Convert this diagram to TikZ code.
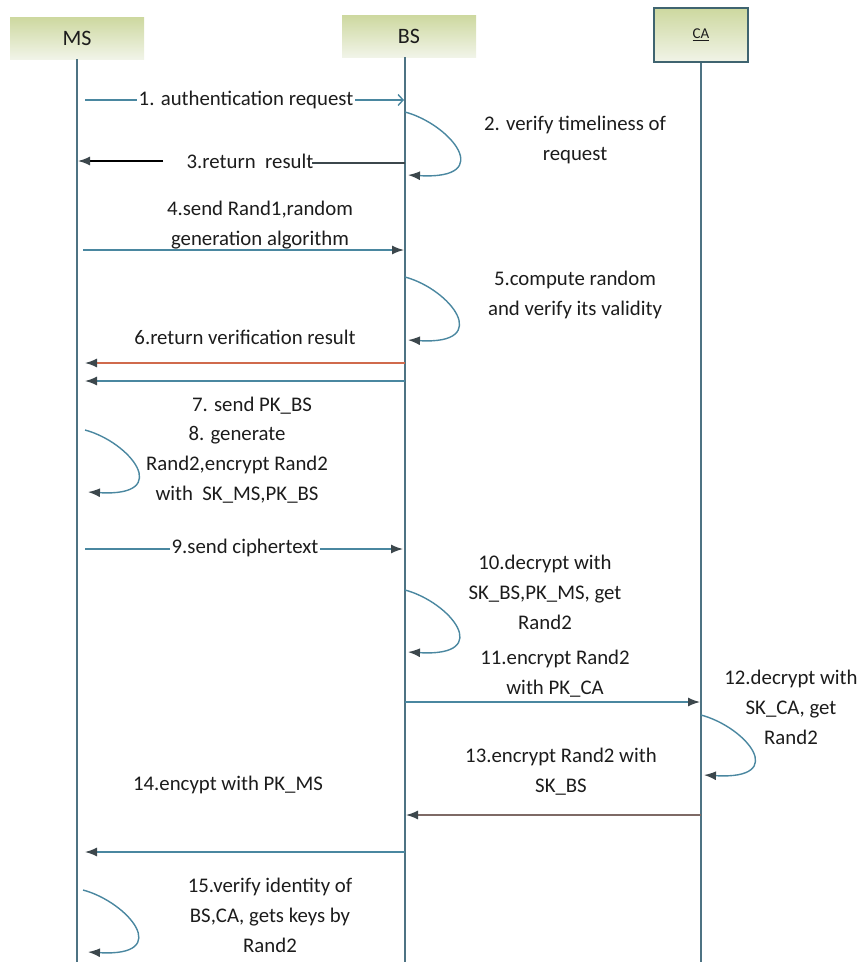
\documentclass[tikz,border=0pt]{standalone}
\usepackage{fontspec}
\setmainfont{Carlito}
\usetikzlibrary{arrows.meta,calc}
\definecolor{lifec}{HTML}{4E7383}
\definecolor{msgc}{HTML}{4A87A0}
\definecolor{tipc}{HTML}{3C474C}
\definecolor{redc}{HTML}{D06A4C}
\definecolor{brc}{HTML}{7E6A66}
\definecolor{txtc}{HTML}{1C1C1C}
\definecolor{boxtop}{HTML}{CDD89F}
\definecolor{boxbot}{HTML}{F1F4E8}
\definecolor{caedge}{HTML}{3F6470}
\begin{document}
\begin{tikzpicture}[x=1pt,y=-1pt,
  actor/.style={minimum width=134pt,minimum height=42pt,top color=boxtop,bottom color=boxbot,draw=none,font=\fontsize{22}{26}\selectfont,text=txtc},
  caact/.style={minimum width=94pt,minimum height=54pt,top color=boxtop,bottom color=boxbot,draw=caedge,line width=1.5pt,font=\fontsize{15}{18}\selectfont,text=txtc},
  life/.style={draw=lifec,line width=1.3pt},
  tipstyle/.style={-{Latex[length=12pt,width=9pt,color=tipc]}},
  msg/.style={draw=msgc,line width=1.4pt,tipstyle},
  msgopen/.style={draw=msgc,line width=1.4pt,-{Straight Barb[length=5pt,width=11pt]}},
  msgred/.style={draw=redc,line width=1.4pt,tipstyle},
  msgbr/.style={draw=brc,line width=1.4pt,tipstyle},
  msgblk/.style={draw=black,line width=1.4pt,tipstyle},
  plain/.style={draw=msgc,line width=1.4pt},
  selfl/.style={draw=msgc,line width=1.4pt,tipstyle},
  lbl/.style={font=\fontsize{20.8}{30}\selectfont,text=txtc,align=center,inner sep=0pt},
  onl/.style={lbl,fill=white,inner xsep=2pt,inner ysep=2pt}
]
\useasboundingbox (0,0) rectangle (864,967);

% actors
\node[actor] (MS) at (77,38) {MS};
\node[actor] (BS) at (409,36) {BS};
\node[caact] (CA) at (701,35) {\underline{CA}};

% lifelines
\coordinate (msT) at (77,59);  \coordinate (msB) at (77,962);
\coordinate (bsT) at (405,57); \coordinate (bsB) at (405,962);
\coordinate (caB) at (701,962);
\draw[life] (msT) -- (msB);
\draw[life] (bsT) -- (bsB);
\draw[life] (CA.south) -- (caB);

% 1
\coordinate (m1a) at (85,100); \coordinate (m1b) at (404,100);
\draw[msgopen] (m1a) -- (m1b);
\node[onl] (l1) at (246,100) {1. authentication request};

% 2
\coordinate (s2a) at (405,112); \coordinate (s2b) at (408,175);
\draw[selfl] (s2a) .. controls ($(s2a)+(45,12)$) and ($(s2b)+(89,5)$) .. (s2b);
\node[lbl] (l2) at (575,140) {2. verify timeliness of\\request};

% 3
\coordinate (m3a) at (405,163); \coordinate (m3b) at (312,163);
\coordinate (m3c) at (163,161); \coordinate (m3d) at (78,161);
\draw[draw=tipc,line width=1.4pt] (m3a) -- (m3b);
\draw[msgblk] (m3c) -- (m3d);
\node[lbl] (l3) at (250,161) {3.return\ \ result};

% 4
\coordinate (m4a) at (83,250); \coordinate (m4b) at (404,250);
\draw[msg] (m4a) -- (m4b);
\node[lbl] (l4) at (260,225) {4.send Rand1,random\\generation algorithm};

% 5
\coordinate (s5a) at (405,277); \coordinate (s5b) at (408,340);
\draw[selfl] (s5a) .. controls ($(s5a)+(45,12)$) and ($(s5b)+(86,5)$) .. (s5b);
\node[lbl] (l5) at (575,295) {5.compute random\\and verify its validity};

% 6
\node[lbl] (l6) at (245,337) {6.return verification result};
\coordinate (m6a) at (405,363); \coordinate (m6b) at (85,363);
\draw[msgred] (m6a) -- (m6b);
\coordinate (m7a) at (405,381); \coordinate (m7b) at (85,381);
\draw[msg] (m7a) -- (m7b);

% 7, 8
\node[lbl] (l7) at (252,406) {7. send PK\_BS};
\node[lbl] (l8) at (237,465) {8. generate\\Rand2,encrypt Rand2\\with\ \ SK\_MS,PK\_BS};
\coordinate (s8a) at (85,430); \coordinate (s8b) at (88,492);
\draw[selfl] (s8a) .. controls ($(s8a)+(45,12)$) and ($(s8b)+(86,5)$) .. (s8b);

% 9
\coordinate (m9a) at (85,549); \coordinate (m9b) at (403,549);
\draw[msg] (m9a) -- (m9b);
\node[onl] (l9) at (245,548) {9.send ciphertext};

% 10
\node[lbl] (l10) at (545,592) {10.decrypt with\\SK\_BS,PK\_MS, get\\Rand2};
\coordinate (s10a) at (405,590); \coordinate (s10b) at (408,652);
\draw[selfl] (s10a) .. controls ($(s10a)+(45,12)$) and ($(s10b)+(87,5)$) .. (s10b);

% 11
\node[lbl] (l11) at (555,674) {11.encrypt Rand2\\with PK\_CA};
\coordinate (m11a) at (405,702); \coordinate (m11b) at (700,702);
\draw[msg] (m11a) -- (m11b);

% 12
\node[lbl] (l12) at (791,707) {12.decrypt with\\SK\_CA, get\\Rand2};
\coordinate (s12a) at (701,715); \coordinate (s12b) at (704,775);
\draw[selfl] (s12a) .. controls ($(s12a)+(45,12)$) and ($(s12b)+(86,5)$) .. (s12b);

% 13
\node[lbl] (l13) at (561,772) {13.encrypt Rand2 with\\SK\_BS};
\coordinate (m13a) at (701,815); \coordinate (m13b) at (406,815);
\draw[msgbr] (m13a) -- (m13b);

% 14
\node[lbl] (l14) at (228,785) {14.encypt with PK\_MS};
\coordinate (m14a) at (405,852); \coordinate (m14b) at (85,852);
\draw[msg] (m14a) -- (m14b);

% 15
\node[lbl] (l15) at (270,915) {15.verify identity of\\BS,CA, gets keys by\\Rand2};
\coordinate (s15a) at (83,890); \coordinate (s15b) at (88,952);
\draw[selfl] (s15a) .. controls ($(s15a)+(45,12)$) and ($(s15b)+(86,5)$) .. (s15b);
\end{tikzpicture}
\end{document}
